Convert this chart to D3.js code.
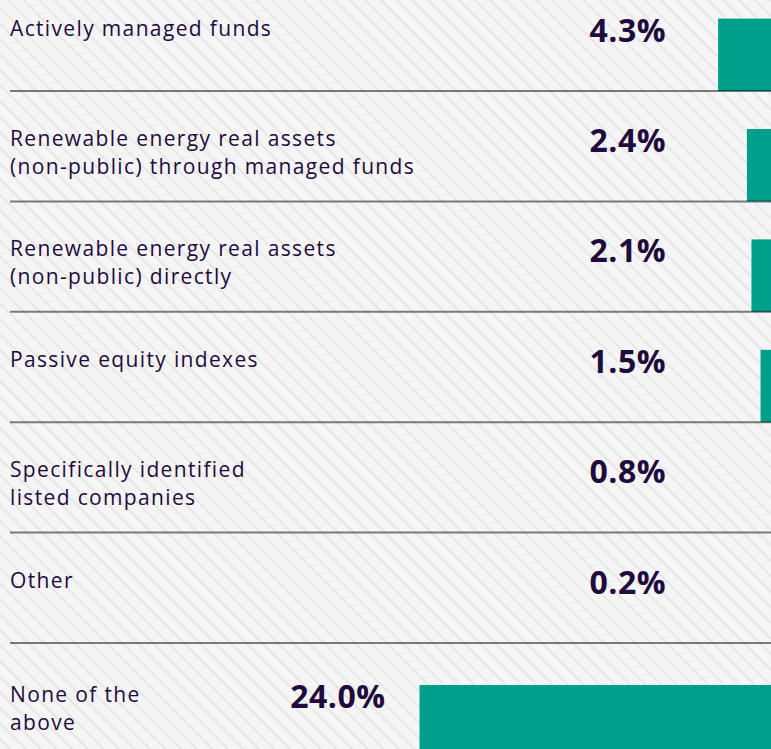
<!DOCTYPE html>
<html>
<head>
<meta charset="utf-8">
<script src="https://cdn.jsdelivr.net/npm/d3@7"></script>
<style>
  html, body { margin: 0; padding: 0; background: #f5f5f5; overflow: hidden; }
  svg { display: block; }
</style>
</head>
<body>
<svg id="chart" width="771" height="749"></svg>
<script>

// label lines per row, as printed in the original
var categories = [
  ['Actively managed funds'],
  ['Renewable energy real assets', '(non-public) through managed funds'],
  ['Renewable energy real assets', '(non-public) directly'],
  ['Passive equity indexes'],
  ['Specifically identified', 'listed companies'],
  ['Other'],
  ['None of the', 'above']
];

var values = [4.3, 2.4, 2.1, 1.5, 0.8, 0.2, 24.0];

var valueDomain = [0, 24];

class ExposureChart
{
  constructor()
  {
    this.width = 771;
    this.height = 749;
    this.ink = '#1f0c3d';
    this.teal = '#009f8b';

    this.svg = d3.select('#chart');

    // bars hang off the right edge, the picture is cropped there
    this.x = d3.scaleLinear().domain(valueDomain).range([783.3, 419.5]);
    this.y = d3.scaleLinear().domain([0, categories.length]).range([-19.4, 753.4]);

    this.format = d3.format('.1f');

    this.make_background();
  }

  make_background()
  {
    var defs = this.svg.append('defs');
    var step = 11;

    var pattern = defs.append('pattern')
                      .attr('id', 'hatch')
                      .attr('patternUnits', 'userSpaceOnUse')
                      .attr('width', step)
                      .attr('height', step)
                      .attr('patternTransform', 'rotate(-45)');

    pattern.append('rect')
           .attr('width', step)
           .attr('height', step)
           .attr('fill', '#f5f5f5');

    pattern.append('line')
           .attr('x1', step / 2).attr('x2', step / 2)
           .attr('y1', 0).attr('y2', step)
           .attr('stroke', '#e0e0e0')
           .attr('stroke-width', 1.3);

    this.svg.append('rect')
            .attr('width', this.width)
            .attr('height', this.height)
            .attr('fill', 'url(#hatch)');
  }

  row_shift(i)
  {
    // the last row sits a little lower in its band
    return (i == categories.length - 1) ? 4 : 0;
  }

  draw()
  {
    var rows = values.map((v, i) => ({value: v, lines: categories[i], index: i}));

    this.svg.append('g')
        .selectAll('rect')
        .data(rows)
        .join('rect')
        .attr('x', d => this.x(d.value))
        .attr('y', d => this.y(d.index) + 38 + this.row_shift(d.index))
        .attr('width', d => this.x(0) - this.x(d.value))
        .attr('height', d => this.y(d.index + 1) - this.y(d.index) - 38)
        .attr('fill', this.teal);

    // row separators
    this.svg.append('g')
        .selectAll('line')
        .data(d3.range(1, categories.length))
        .join('line')
        .attr('x1', 10)
        .attr('x2', this.width)
        .attr('y1', d => this.y(d))
        .attr('y2', d => this.y(d))
        .attr('stroke', '#000')
        .attr('stroke-opacity', 0.5)
        .attr('stroke-width', 2);

    var labels = this.svg.append('g')
                         .selectAll('text')
                         .data(rows)
                         .join('text')
                         .attr('x', 10)
                         .attr('y', d => this.y(d.index) + 55 + this.row_shift(d.index))
                         .attr('fill', this.ink)
                         .style('font-family', '"Open Sans", sans-serif')
                         .style('font-size', '21px')
                         .style('letter-spacing', '1.35px');

    labels.selectAll('tspan')
          .data(d => d.lines)
          .join('tspan')
          .attr('x', 10)
          .attr('dy', (d, j) => j == 0 ? 0 : 28)
          .text(d => d);

    this.svg.append('g')
        .selectAll('text')
        .data(rows)
        .join('text')
        .attr('x', d => Math.min(666, this.x(d.value) - 34))
        .attr('y', d => this.y(d.index) + 61 + this.row_shift(d.index))
        .attr('text-anchor', 'end')
        .attr('fill', this.ink)
        .style('font-family', '"Open Sans", sans-serif')
        .style('font-weight', 700)
        .style('font-size', '32px')
        .style('letter-spacing', '0.5px')
        .text(d => this.format(d.value) + '%');
  }
}

var chart = new ExposureChart();
chart.draw();

</script>
</body>
</html>
